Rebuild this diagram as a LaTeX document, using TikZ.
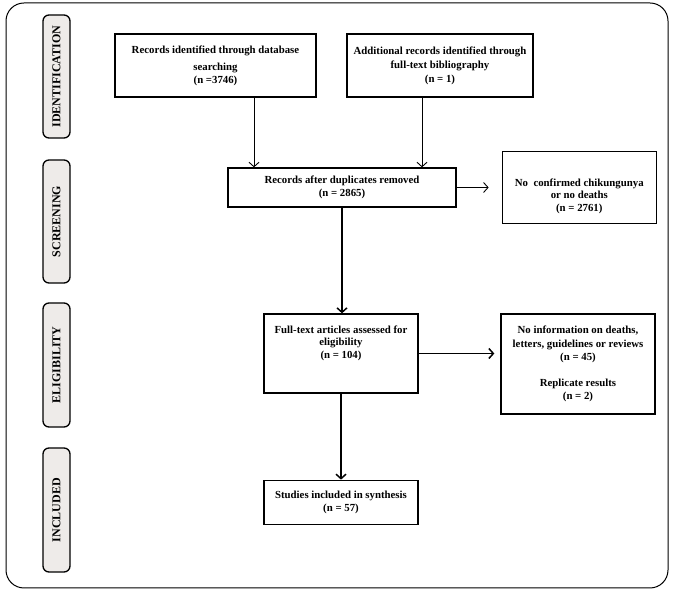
\documentclass[tikz,border=0pt]{standalone}
\usepackage{fontspec}
\setmainfont{Liberation Serif}
\usepackage{tikz}
\usetikzlibrary{arrows.meta,positioning}
\definecolor{phase_gray}{RGB}{238,235,233}
\tikzset{
  flowbox/.style = {draw, line width=1.3pt, align=center, inner sep=0pt,
  font=\fontsize{10.8}{12.5}\selectfont\bfseries},
  widebox/.style = {flowbox, font=\fontsize{10.8}{14}\selectfont\bfseries},
  phase/.style = {draw, line width=1.3pt, rounded corners=6pt, fill=phase_gray,
  minimum width=123pt, minimum height=27pt, inner sep=0pt, rotate=90,
  font=\fontsize{12}{14}\selectfont\bfseries}
}

\begin{document}
\begin{tikzpicture}[x=1pt, y=-1pt,
        flow/.style={-{Straight Barb[length=4.5pt,width=10pt]}, line width=0.9pt},
        thickflow/.style={flow, line width=1.5pt}]
    \useasboundingbox (0,0) rectangle (673,593);
    \draw[line width=1pt, rounded corners=18pt] (6,3) rectangle (668,588);
    \node [phase] (ph_id) at (56.5,76.5) {IDENTIFICATION};
    \node [phase] (ph_scr) at (56.5,221.5) {SCREENING};
    \node [phase, minimum width=124pt] (ph_elig) at (56.5,365) {ELIGIBILITY};
    \node [phase, minimum width=124pt] (ph_inc) at (56.5,510) {INCLUDED};
    \node [flowbox, minimum width=201pt, minimum height=63pt] (ident) at (215.5,65.5)
        {Records identified through database\\[5pt]searching\\(n =3746)};
    \node [widebox, minimum width=186pt, minimum height=63pt] (extra) at (440,65.5)
        {Additional records identified through\\full-text bibliography\\(n = 1)};
    \node [flowbox, minimum width=228pt, minimum height=39pt] (dedup) at (342,187.5)
        {Records after duplicates removed\\(n = 2865)};
    \node [flowbox, minimum width=154pt, minimum height=72pt, right=45pt of dedup] (excl1)
        {\mbox{}\\[12pt]No~ confirmed chikungunya\\or no deaths\\(n = 2761)};
    \node [flowbox, minimum width=154pt, minimum height=79pt] (fulltext) at (341,353.5)
        {Full-text articles assessed for\\eligibility\\(n = 104)\\[11pt]\mbox{}};
    \node [flowbox, font=\fontsize{10.8}{13.5}\selectfont\bfseries, minimum width=154pt,
        minimum height=100pt] (excl2) at (578,364)
        {No information on deaths,\\letters, guidelines or reviews\\(n = 45)\\[12pt]Replicate results\\(n = 2)};
    \node [flowbox, minimum width=154pt, minimum height=44pt, below=86pt of fulltext] (incl)
        {Studies included in synthesis\\(n = 57)};
    \draw[flow] ([xshift=38.5pt]ident.south) -- ([xshift=38.5pt]ident.south |- dedup.north);
    \draw[flow] ([xshift=-18pt]extra.south) -- ([xshift=-18pt]extra.south |- dedup.north);
    \draw[flow, shorten >=13pt] (dedup.east) -- (excl1.west);
    \draw[thickflow] (dedup.south) -- (dedup.south |- fulltext.north);
    \draw[thickflow, shorten >=6pt] (fulltext.east) -- (fulltext.east -| excl2.west);
    \draw[thickflow] (fulltext.south) -- (incl.north);
\end{tikzpicture}
\end{document}
